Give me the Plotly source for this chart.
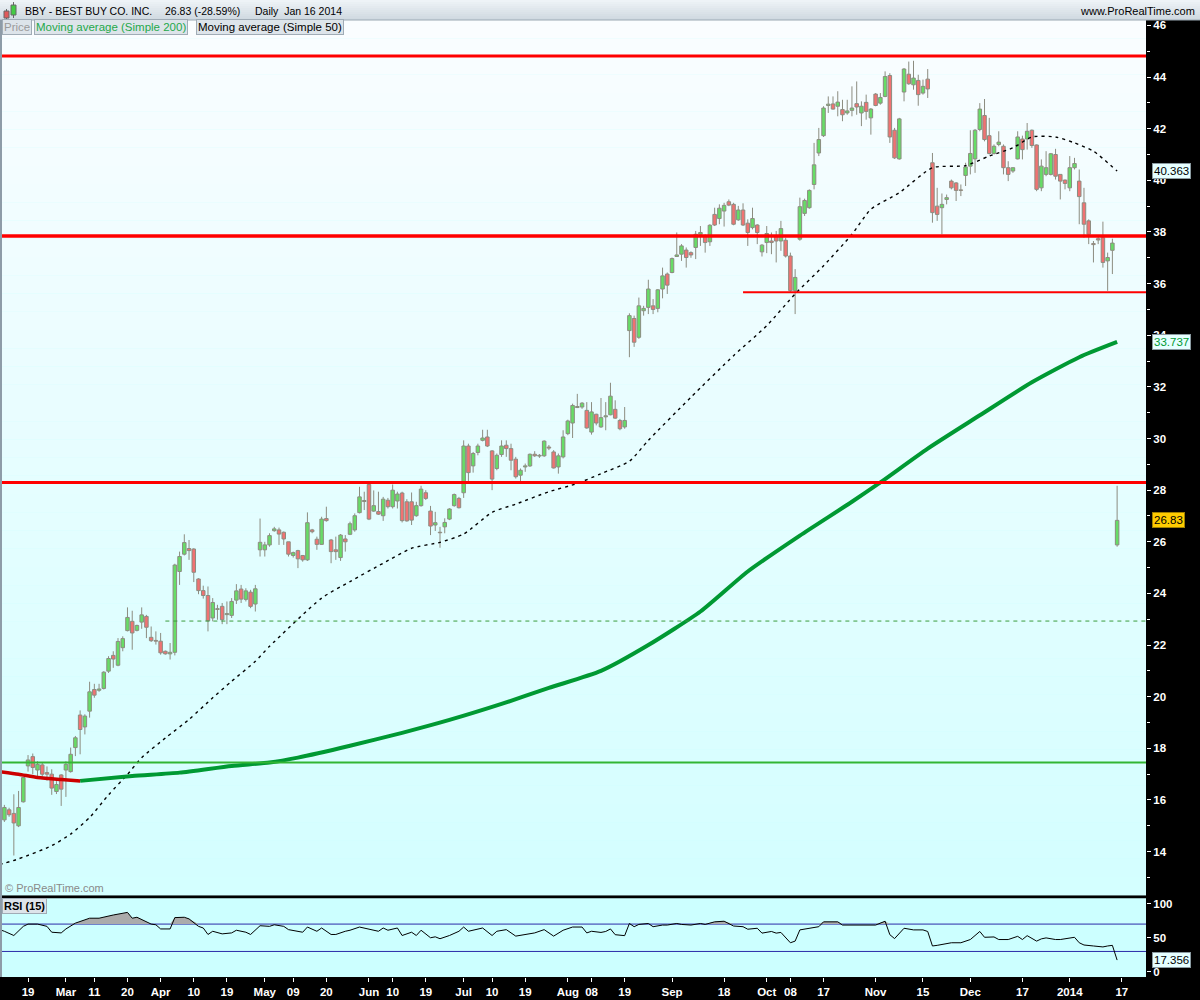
import numpy as np
import plotly.graph_objects as go

# ---------------- DATA ----------------
first_index = -5   # index 0 = Feb 19 2013, one index per trading day
ohlc_open = [15.23, 15.62, 15.48, 15.00, 15.93, 17.32, 17.68, 17.16, 17.36, 17.06,
             17.00, 16.33, 16.97, 17.16, 17.10, 18.03, 19.29, 18.83, 19.44, 20.28,
             20.25, 20.32, 20.99, 21.60, 21.22, 21.90, 22.56, 22.92, 22.57, 22.89,
             23.11, 22.30, 22.18, 22.15, 21.76, 21.66, 21.72, 24.85, 25.52, 25.74,
             25.72, 24.56, 24.11, 23.92, 23.05, 23.38, 23.50, 23.18, 23.15, 23.74,
             24.17, 23.77, 24.05, 23.59,
             25.69, 25.69, 25.88, 26.43, 26.46, 26.37, 26.00, 25.47, 25.66, 25.47,
             25.30, 26.46, 26.10, 25.90, 26.90, 26.07, 25.69, 25.39, 26.11, 26.29,
             26.46, 27.13, 27.56, 28.22, 27.19, 27.17, 27.01, 27.61, 27.36, 27.58,
             27.89, 27.55, 27.55, 27.01, 27.40, 27.90, 27.19, 26.65, 26.36, 26.58,
             26.88, 27.40, 27.68, 27.90, 29.71, 28.94, 29.46, 29.93, 30.06, 29.52,
             28.84, 29.38, 29.74, 29.61, 29.20, 28.58, 28.90, 28.94, 29.39, 29.32,
             29.33, 29.67, 29.48, 28.90, 29.29, 30.19, 30.60, 31.20, 31.22, 31.09,
             30.25, 30.94, 30.45, 30.84, 30.92, 31.13, 30.70, 30.45,
             34.18, 34.65, 33.92, 34.95, 35.08, 35.14, 35.04, 35.79, 36.37, 36.43,
             37.05, 37.14, 37.30, 37.20, 37.40, 37.91, 37.85, 37.62, 38.68, 38.52,
             38.81, 39.17, 39.07, 38.47, 38.85, 38.34, 38.17, 38.27, 37.23, 37.59,
             37.65, 37.85, 37.65, 37.68, 37.07, 35.73, 37.72, 38.72, 38.94, 39.84,
             41.06, 41.73, 42.90, 42.96, 42.87, 42.74, 42.61, 42.71, 42.97, 42.61,
             43.02, 42.42, 43.34, 42.99, 43.25, 44.06, 41.94, 40.83, 43.42, 44.11,
             43.70, 43.87, 43.38, 43.92,
             40.68, 39.00, 38.94, 39.26, 39.97, 39.90, 39.63, 40.19, 40.55, 40.83,
             41.97, 42.51, 41.73, 41.04, 41.39, 41.32, 40.49, 40.36, 40.83, 41.60,
             41.60, 41.94, 41.37, 39.71, 40.23, 40.23, 41.00, 40.23, 40.01, 39.71,
             40.49, 39.97, 39.13, 38.43, 37.55, 37.74, 37.78, 36.88, 37.29, 25.88]
ohlc_high = [15.81, 15.70, 16.22, 16.35, 16.90, 17.74, 17.80, 17.50, 17.45, 17.30,
             17.19, 16.73, 17.00, 17.50, 18.03, 18.48, 19.47, 19.32, 20.58, 20.50,
             20.50, 20.99, 21.57, 21.76, 22.27, 22.34, 23.46, 23.33, 22.79, 23.46,
             23.17, 22.72, 22.53, 22.47, 21.79, 22.08, 25.15, 25.62, 26.29, 26.07,
             25.75, 24.59, 24.30, 24.27, 23.82, 23.56, 23.63, 23.69, 23.82, 24.36,
             24.33, 24.20, 24.14, 24.33,
             26.90, 26.00, 26.33, 26.58, 26.55, 26.40, 26.00, 25.62, 25.69, 25.49,
             27.14, 26.50, 26.20, 26.97, 27.36, 26.11, 26.20, 26.30, 26.26, 26.78,
             27.10, 28.13, 27.94, 28.35, 27.99, 27.94, 27.74, 27.70, 28.22, 27.94,
             27.94, 27.65, 27.91, 27.55, 28.17, 28.00, 27.39, 27.16, 26.58, 26.91,
             27.30, 27.87, 27.74, 29.93, 29.80, 29.48, 29.80, 30.34, 30.34, 29.55,
             29.42, 29.93, 29.93, 29.80, 29.29, 28.84, 29.03, 29.42, 29.51, 29.40,
             29.93, 29.75, 29.55, 29.42, 30.32, 30.73, 31.35, 31.73, 31.41, 31.41,
             31.41, 30.96, 31.57, 31.41, 32.16, 31.48, 30.76, 31.22,
             34.85, 34.76, 35.46, 35.14, 36.15, 35.40, 35.79, 36.62, 36.43, 37.01,
             37.98, 37.53, 37.40, 37.25, 38.04, 38.23, 37.91, 38.30, 38.94, 39.07,
             39.13, 39.26, 39.13, 39.01, 39.11, 38.49, 38.94, 38.30, 37.53, 38.23,
             37.98, 38.04, 38.43, 37.78, 37.20, 36.56, 39.33, 39.29, 39.65, 41.45,
             42.03, 42.87, 43.25, 43.25, 43.45, 43.12, 43.12, 43.64, 43.83, 43.06,
             43.32, 42.80, 43.38, 43.38, 44.22, 44.15, 42.03, 42.42, 44.35, 44.60,
             44.63, 44.09, 43.90, 44.31,
             41.06, 39.71, 39.49, 39.45, 40.03, 39.93, 39.84, 40.68, 41.94, 41.99,
             42.99, 43.15, 42.42, 41.39, 41.90, 41.39, 40.74, 40.49, 41.90, 41.73,
             42.22, 41.97, 41.39, 40.81, 41.13, 41.06, 41.22, 40.23, 40.03, 40.94,
             40.87, 40.42, 39.71, 38.49, 37.65, 37.82, 38.40, 37.20, 37.74, 28.17]
ohlc_low = [15.15, 15.35, 13.85, 14.95, 15.90, 17.10, 17.00, 16.93, 16.90, 16.75,
            16.20, 16.23, 15.77, 16.12, 17.06, 17.70, 17.77, 18.54, 19.19, 19.96,
            20.19, 20.28, 20.92, 21.12, 21.18, 21.76, 22.53, 21.82, 22.53, 22.63,
            22.27, 22.12, 22.02, 21.63, 21.63, 21.44, 21.60, 24.33, 25.47, 25.30,
            24.44, 23.97, 23.80, 22.53, 22.92, 22.98, 22.81, 22.81, 23.05, 23.59,
            23.63, 23.69, 23.43, 23.30,
            25.43, 25.43, 25.81, 26.39, 25.88, 25.88, 25.43, 25.39, 24.98, 25.23,
            25.26, 26.33, 25.69, 25.88, 26.78, 25.17, 25.30, 25.26, 25.62, 26.26,
            26.39, 27.10, 27.23, 26.84, 27.16, 27.04, 26.81, 27.29, 27.29, 27.29,
            26.75, 26.78, 26.65, 26.97, 27.36, 27.62, 26.26, 26.42, 25.77, 26.33,
            26.84, 27.36, 27.29, 27.70, 28.32, 28.68, 29.35, 29.89, 29.67, 28.00,
            28.77, 29.29, 29.29, 28.77, 28.45, 28.35, 28.71, 28.90, 29.29, 29.25,
            29.29, 29.55, 28.84, 28.64, 29.23, 30.13, 30.02, 31.18, 31.15, 30.38,
            30.15, 30.51, 30.41, 30.32, 30.90, 30.76, 30.32, 30.38,
            33.15, 33.55, 33.86, 34.76, 34.82, 34.82, 34.89, 35.43, 35.60, 36.40,
            37.03, 36.88, 36.62, 37.00, 36.95, 37.46, 37.20, 37.46, 38.23, 38.30,
            38.21, 39.00, 38.26, 38.43, 38.23, 37.46, 38.10, 37.53, 37.05, 37.18,
            37.14, 36.82, 37.27, 37.01, 35.66, 34.82, 37.66, 38.62, 38.90, 39.65,
            40.94, 41.68, 42.61, 42.74, 42.48, 42.29, 42.54, 42.48, 42.54, 42.10,
            42.35, 41.77, 42.87, 42.93, 43.22, 41.45, 40.83, 40.80, 43.06, 43.70,
            43.51, 42.89, 43.32, 43.19,
            38.36, 38.43, 37.91, 39.07, 39.65, 39.20, 39.39, 39.78, 40.23, 40.29,
            41.90, 41.51, 41.00, 41.00, 41.32, 40.23, 39.97, 40.29, 40.81, 40.81,
            41.19, 41.26, 39.58, 39.58, 40.16, 40.19, 40.03, 39.26, 39.65, 39.58,
            40.42, 38.30, 37.78, 37.53, 36.82, 37.53, 36.62, 35.72, 36.37, 25.81]
ohlc_close = [15.71, 15.43, 15.11, 15.71, 16.87, 17.55, 17.26, 17.38, 17.00, 17.00,
              16.46, 16.60, 16.42, 17.38, 17.77, 18.41, 18.73, 19.25, 20.19, 20.06,
              20.30, 20.95, 21.48, 21.46, 22.14, 22.25, 23.07, 22.47, 22.76, 23.17,
              22.69, 22.17, 22.15, 21.70, 21.66, 21.72, 25.10, 25.43, 25.97, 25.66,
              24.82, 24.11, 23.92, 22.94, 23.65, 23.41, 22.98, 23.22, 23.69, 24.10,
              23.78, 24.10, 23.50, 24.18,
              25.98, 25.88, 26.24, 26.50, 26.30, 26.11, 25.52, 25.58, 25.34, 25.30,
              26.74, 26.39, 25.90, 26.88, 26.82, 25.62, 25.62, 26.26, 26.00, 26.70,
              27.01, 27.74, 27.60, 26.88, 27.40, 27.07, 27.65, 27.36, 28.00, 27.85,
              26.82, 26.81, 26.84, 27.40, 28.04, 27.68, 26.61, 26.74, 26.35, 26.75,
              27.27, 27.83, 27.32, 29.71, 28.68, 29.42, 29.71, 30.02, 29.71, 28.43,
              29.35, 29.71, 29.61, 29.16, 28.52, 28.77, 28.94, 29.39, 29.33, 29.35,
              29.90, 29.63, 28.86, 29.33, 30.06, 30.68, 31.28, 31.24, 31.37, 30.41,
              31.03, 30.60, 30.81, 30.88, 31.64, 30.79, 30.38, 30.70,
              34.76, 33.73, 35.14, 35.04, 35.79, 35.00, 35.76, 36.30, 35.94, 36.97,
              37.11, 37.46, 37.01, 37.11, 37.91, 37.98, 37.59, 38.26, 38.27, 38.92,
              39.03, 39.04, 38.30, 38.85, 38.27, 37.98, 38.52, 37.98, 37.49, 37.94,
              37.59, 37.65, 38.13, 37.07, 35.73, 36.24, 38.98, 39.22, 39.61, 40.60,
              41.58, 42.80, 42.95, 42.76, 43.03, 42.54, 42.69, 42.80, 42.84, 42.87,
              42.67, 42.76, 42.90, 43.21, 44.02, 41.68, 40.87, 42.38, 44.31, 43.74,
              43.96, 43.32, 43.64, 43.54,
              38.75, 38.68, 39.07, 39.33, 39.71, 39.61, 39.61, 40.52, 41.04, 41.94,
              42.76, 41.58, 41.04, 41.32, 41.48, 40.49, 40.23, 40.49, 41.68, 41.19,
              41.90, 41.35, 39.65, 40.55, 40.49, 41.03, 40.16, 39.97, 39.88, 40.49,
              40.65, 39.37, 38.30, 37.91, 37.51, 37.69, 36.82, 37.01, 37.57, 26.83]

# Moving averages (index, value)
sma200_dn_idx = [-6, -2, 2, 7, 11]
sma200_dn_val = [17.10, 17.00, 16.87, 16.79, 16.74]
sma200_up_idx = [11, 22, 32, 43, 51, 57, 68, 79, 89, 100, 110, 121, 131, 142, 152,
                 163, 174, 180, 190, 201, 212, 222, 230]
sma200_up_val = [16.74, 16.93, 17.06, 17.32, 17.45, 17.64, 18.10, 18.60, 19.10, 19.72,
                 20.34, 21.00, 22.00, 23.30, 24.85, 26.24, 27.55, 28.30, 29.61, 30.90,
                 32.18, 33.15, 33.74]
sma50_idx = [-6, -2, 5, 9, 13, 17, 21, 24, 29, 34, 39, 43, 48, 51, 62, 68, 75, 81, 87,
             92, 98, 103, 110, 116, 121, 127, 131, 140, 149, 156, 162, 168, 174, 178,
             184, 191, 198, 203, 208, 212, 217, 221, 225, 230]
sma50_val = [13.50, 13.72, 14.23, 14.68, 15.32, 16.20, 16.99, 17.64, 18.40, 19.12, 19.96,
             20.60, 21.37, 21.95, 23.82, 24.46, 25.17, 25.75, 25.98, 26.30, 27.14, 27.46,
             27.94, 28.26, 28.64, 29.12, 29.93, 31.60, 33.21, 34.37, 35.60, 36.69, 37.91,
             38.88, 39.52, 40.49, 40.57, 40.94, 41.26, 41.68, 41.68, 41.45, 41.13, 40.36]

# RSI(15) readings (index, value)
rsi_idx = [-6, -5, -3, -1, 0, 2, 4, 5, 7, 8, 10, 13, 15, 17, 18, 21, 22, 23, 26, 27,
           28, 30, 31, 33, 34, 36, 37, 38, 39, 41, 43, 44, 46, 47, 49, 51, 52, 54, 55,
           58, 59, 61, 62, 64, 65, 67, 68, 70, 72, 73, 74, 75, 76, 78, 79, 81, 82, 83,
           85, 86, 87, 89, 91, 92, 93, 96, 98, 99, 101, 103, 106, 107, 109, 111, 113,
           115, 117, 118, 119, 121, 122, 123, 124, 126, 127, 128, 129, 131, 132, 134,
           135, 137, 138, 140, 142, 143, 145, 147, 149, 151, 152, 154, 155, 157, 158,
           159, 161, 162, 163, 165, 167, 168, 171, 172, 176, 179, 181, 182, 183, 185,
           187, 189, 190, 191, 192, 193, 195, 197, 199, 201, 202, 204, 205, 207, 209,
           210, 211, 213, 214, 215, 217, 218, 220, 221, 222, 223, 225, 227, 228, 229, 230]
rsi_val = [61.9, 59.5, 53.3, 66.7, 70.0, 70.0, 66.7, 58.1, 57.1, 62.9, 71.4, 78.6, 78.6,
           81.9, 83.3, 87.1, 78.6, 80.0, 70.0, 69.0, 62.9, 62.9, 79.5, 80.0, 77.6, 66.7,
           64.3, 54.8, 59.5, 55.7, 57.1, 61.0, 58.1, 54.8, 67.6, 66.7, 69.0, 66.7, 61.9,
           58.1, 65.7, 59.5, 64.3, 54.8, 54.8, 59.5, 61.0, 65.7, 62.9, 61.9, 59.5, 64.3,
           61.0, 64.3, 53.3, 58.1, 53.3, 61.0, 50.0, 51.4, 48.6, 53.3, 59.5, 65.7, 59.5,
           64.3, 53.3, 59.5, 61.9, 52.4, 56.2, 57.1, 61.9, 52.4, 61.0, 65.7, 65.7, 57.1,
           59.5, 57.8, 59.2, 62.9, 54.5, 53.1, 70.9, 66.2, 69.5, 70.9, 66.2, 68.6, 68.6,
           70.9, 69.5, 68.6, 70.9, 69.5, 73.3, 74.2, 67.2, 66.2, 62.5, 63.9, 56.8, 59.2,
           56.8, 57.8, 42.7, 45.1, 61.5, 63.9, 66.2, 73.3, 73.3, 68.6, 68.6, 68.6, 74.2,
           54.5, 48.8, 63.9, 61.5, 61.5, 59.2, 38.0, 38.9, 40.4, 42.7, 42.7, 47.4, 59.2,
           50.7, 51.2, 47.4, 47.4, 52.1, 47.4, 53.1, 45.1, 48.4, 49.8, 47.4, 47.4, 49.8,
           50.7, 42.7, 39.4, 38.0, 36.6, 38.0, 38.9, 17.356]

# Horizontal levels
red_levels = [44.82, 37.84, 28.30]
support_level = 35.67
support_start = 151
green_level = 17.45
gap_level = 22.93
gap_start = 29
rsi_bands = [70, 30]

# x-axis ticks
tick_idx = [0, 8, 14, 21, 28, 35, 42, 50, 56, 63, 72, 77, 84, 92, 98, 105, 114, 119,
            126, 136, 147, 156, 161, 168, 179, 189, 199, 210, 220, 231]
tick_text = ["19", "Mar", "11", "20", "Apr", "10", "19", "May", "09", "20", "Jun", "10",
             "19", "Jul", "10", "19", "Aug", "08", "19", "Sep", "18", "Oct", "08", "17",
             "Nov", "15", "Dec", "17", "2014", "17"]

last_labels = {"sma50": "40.363", "sma200": "33.737", "price": "26.83", "rsi": "17.356"}

# ---------------- LAYOUT GEOMETRY ----------------
W, H = 1200, 1000
ML, MR, MT, MB = 2, 54, 20, 18
PW, PH = W - ML - MR, H - MT - MB


def px(x):
    return (x - ML) / PW


def py(y):
    return (H - MB - y) / PH


FONT = "Liberation Sans, Arial, sans-serif"
x_range = [-5.5, 236.1]
CANDLE_EDGE = "#8c8c80"

idx = np.arange(first_index, first_index + len(ohlc_open))
o = np.array(ohlc_open)
h = np.array(ohlc_high)
lo = np.array(ohlc_low)
c = np.array(ohlc_close)
body_top = np.maximum(o, c)
body_bot = np.minimum(o, c)
body_len = np.maximum(body_top - body_bot, 0.02)
up = c >= o

fig = go.Figure()

# wicks (upper and lower, not crossing the body)
wx, wy = [], []
for k in range(len(idx)):
    wx += [idx[k], idx[k], None, idx[k], idx[k], None]
    wy += [h[k], body_top[k], None, body_bot[k], lo[k], None]
fig.add_trace(go.Scatter(x=wx, y=wy, mode="lines", line=dict(color=CANDLE_EDGE, width=1),
                         xaxis="x", yaxis="y", showlegend=False, hoverinfo="skip"))
# bodies
for mask, col in [(up, "#66dd66"), (~up, "#f07272")]:
    fig.add_trace(go.Bar(x=idx[mask], y=body_len[mask], base=body_bot[mask], width=0.74,
                         marker=dict(color=col, line=dict(color=CANDLE_EDGE, width=1)),
                         xaxis="x", yaxis="y", showlegend=False, hoverinfo="skip"))

fig.add_trace(go.Scatter(x=sma50_idx, y=sma50_val, mode="lines",
                         line=dict(color="black", width=1.4, dash="3px,4px", shape="spline", smoothing=0.6),
                         xaxis="x", yaxis="y", showlegend=False, hoverinfo="skip"))
fig.add_trace(go.Scatter(x=sma200_up_idx, y=sma200_up_val, mode="lines",
                         line=dict(color="#009933", width=4, shape="spline", smoothing=0.6),
                         xaxis="x", yaxis="y", showlegend=False, hoverinfo="skip"))
fig.add_trace(go.Scatter(x=sma200_dn_idx, y=sma200_dn_val, mode="lines",
                         line=dict(color="#cc0000", width=3.5, shape="spline", smoothing=0.6),
                         xaxis="x", yaxis="y", showlegend=False, hoverinfo="skip"))

# RSI overbought fill
rsi_arr = np.array(rsi_val)
fig.add_trace(go.Scatter(x=rsi_idx, y=[rsi_bands[0]] * len(rsi_idx), mode="lines",
                         line=dict(width=0, color="rgba(0,0,0,0)"), xaxis="x2", yaxis="y2",
                         showlegend=False, hoverinfo="skip"))
fig.add_trace(go.Scatter(x=rsi_idx, y=np.maximum(rsi_arr, rsi_bands[0]), mode="lines",
                         line=dict(width=0, color="rgba(0,0,0,0)"), fill="tonexty",
                         fillcolor="#ababab", xaxis="x2", yaxis="y2",
                         showlegend=False, hoverinfo="skip"))
fig.add_trace(go.Scatter(x=rsi_idx, y=rsi_val, mode="lines",
                         line=dict(color="black", width=1), xaxis="x2", yaxis="y2",
                         showlegend=False, hoverinfo="skip"))

shapes = []
# main panel gradient background
nb = 48
y_top, y_bot = 20, 898
for k in range(nb):
    t = k / (nb - 1)
    r = int(250 + (212 - 250) * t)
    g = int(253 + (255 - 253) * t)
    shapes.append(dict(type="rect", xref="paper", yref="paper", x0=0, x1=1,
                       y0=py(y_top + (y_bot - y_top) * (k + 1) / nb),
                       y1=py(y_top + (y_bot - y_top) * k / nb),
                       fillcolor=f"rgb({r},{g},255)", line=dict(width=0), layer="below"))
# header gradient
nh = 10
for k in range(nh):
    t = k / (nh - 1)
    cc = (int(238 - 30 * t), int(243 - 25 * t), int(247 - 22 * t))
    shapes.append(dict(type="rect", xref="paper", yref="paper", x0=px(0), x1=px(1200),
                       y0=py(20 * (k + 1) / nh), y1=py(20 * k / nh),
                       fillcolor=f"rgb{cc}", line=dict(width=0), layer="below"))
shapes.append(dict(type="line", xref="paper", yref="paper", x0=px(0), x1=px(1200),
                   y0=py(20), y1=py(20), line=dict(color="#9aa8b2", width=1)))
# left border
shapes.append(dict(type="rect", xref="paper", yref="paper", x0=px(0), x1=px(2),
                   y0=py(980), y1=py(20), fillcolor="#8e9ca8", line=dict(width=0)))
# header icon
shapes += [
    dict(type="line", xref="paper", yref="paper", x0=px(6.5), x1=px(6.5), y0=py(20), y1=py(9),
         line=dict(color="#666", width=1)),
    dict(type="rect", xref="paper", yref="paper", x0=px(4), x1=px(9), y0=py(18), y1=py(11),
         fillcolor="#e05a5a", line=dict(color="#666", width=1)),
    dict(type="line", xref="paper", yref="paper", x0=px(13.5), x1=px(13.5), y0=py(18), y1=py(2),
         line=dict(color="#666", width=1)),
    dict(type="rect", xref="paper", yref="paper", x0=px(11), x1=px(16), y0=py(15), y1=py(5),
         fillcolor="#44cc44", line=dict(color="#666", width=1)),
]
# level lines
for lv, w in zip(red_levels, [3, 3.5, 3]):
    shapes.append(dict(type="line", xref="x domain", yref="y", x0=0, x1=1, y0=lv, y1=lv,
                       line=dict(color="#ff0000", width=w), layer="above"))
shapes.append(dict(type="line", xref="x", yref="y", x0=support_start, x1=x_range[1],
                   y0=support_level, y1=support_level, line=dict(color="#ff0000", width=2)))
shapes.append(dict(type="line", xref="x domain", yref="y", x0=0, x1=1, y0=green_level,
                   y1=green_level, line=dict(color="#33b533", width=2)))
shapes.append(dict(type="line", xref="x", yref="y", x0=gap_start, x1=x_range[1],
                   y0=gap_level, y1=gap_level, line=dict(color="#3c9c3c", width=1, dash="4px,4px")))
for lv in rsi_bands:
    shapes.append(dict(type="line", xref="x2 domain", yref="y2", x0=0, x1=1, y0=lv, y1=lv,
                       line=dict(color="#2a2aa8", width=1), layer="below"))

annotations = []
hdr = dict(xref="paper", yref="paper", showarrow=False, xanchor="left", yanchor="middle",
           font=dict(family=FONT, size=10.5, color="black"))
annotations.append(dict(hdr, x=px(23), y=py(10.5), text="BBY - BEST BUY CO. INC."))
annotations.append(dict(hdr, x=px(163), y=py(10.5), text="26.83 (-28.59%)"))
annotations.append(dict(hdr, x=px(253), y=py(10.5), text="Daily  Jan 16 2014"))
annotations.append(dict(hdr, x=px(1197), y=py(10.5), xanchor="right", text="www.ProRealTime.com",
                        font=dict(family=FONT, size=11, color="black")))

box = dict(xref="paper", yref="paper", showarrow=False, xanchor="left", yanchor="middle",
           bgcolor="#dde4ea", bordercolor="#a0acb6", borderwidth=1, borderpad=1)
annotations.append(dict(box, x=px(2), y=py(27), text="Price",
                        font=dict(family=FONT, size=11.5, color="#9a9a9a")))
annotations.append(dict(box, x=px(34), y=py(27), text="Moving average (Simple 200)",
                        font=dict(family=FONT, size=11.5, color="#1fa84a")))
annotations.append(dict(box, x=px(196), y=py(27), text="Moving average (Simple 50)",
                        font=dict(family=FONT, size=11.5, color="black")))
annotations.append(dict(box, x=px(2), y=py(909), text="<b>RSI (15)</b>",
                        font=dict(family=FONT, size=11, color="black")))
annotations.append(dict(xref="paper", yref="paper", showarrow=False, xanchor="left",
                        yanchor="middle", x=px(3), y=py(891), text="© ProRealTime.com",
                        font=dict(family=FONT, size=11, color="#8a8a8a")))

lab = dict(xref="paper", showarrow=False, xanchor="left", yanchor="middle", x=px(1152),
           borderwidth=1, borderpad=1)
annotations.append(dict(lab, yref="y", y=sma50_val[-1], text=last_labels["sma50"],
                        bgcolor="#e6ffff", bordercolor="#8a9aa0",
                        font=dict(family=FONT, size=11.5, color="black")))
annotations.append(dict(lab, yref="y", y=sma200_up_val[-1], text=last_labels["sma200"],
                        bgcolor="#e6ffff", bordercolor="#8a9aa0",
                        font=dict(family=FONT, size=11.5, color="#009933")))
annotations.append(dict(lab, yref="y", y=ohlc_close[-1], text=last_labels["price"],
                        bgcolor="#ffcc00", bordercolor="#a08000",
                        font=dict(family=FONT, size=11.5, color="black")))
annotations.append(dict(lab, yref="y2", y=rsi_val[-1], text=last_labels["rsi"],
                        bgcolor="#e6ffff", bordercolor="#8a9aa0",
                        font=dict(family=FONT, size=11.5, color="black")))

tickfont = dict(family=FONT, size=11.5, color="white", weight="bold")

fig.update_layout(
    width=W, height=H,
    margin=dict(l=ML, r=MR, t=MT, b=MB),
    paper_bgcolor="black", plot_bgcolor="#ccffff",
    showlegend=False, barmode="overlay", bargap=0,
    shapes=shapes, annotations=annotations,
    xaxis=dict(domain=[0, 1], anchor="y", range=x_range, showticklabels=False,
               showgrid=False, zeroline=False, ticks="", fixedrange=True),
    yaxis=dict(domain=[py(898), 1], anchor="x", side="right", range=[12.31, 46.21],
               tick0=0, dtick=2, showgrid=False, zeroline=False, ticks="outside",
               ticklen=4, tickcolor="white", tickfont=tickfont, fixedrange=True,
               minor=dict(ticks="outside", ticklen=3, tickcolor="white", dtick=1, tick0=0)),
    xaxis2=dict(domain=[0, 1], anchor="y2", range=x_range, matches="x",
                tickmode="array", tickvals=tick_idx, ticktext=tick_text,
                showgrid=False, zeroline=False, ticks="outside", ticklen=4,
                tickcolor="white", tickfont=tickfont, fixedrange=True),
    yaxis2=dict(domain=[py(980), py(901)], anchor="x2", side="right", range=[-7.4, 107.8],
                tick0=0, dtick=50, showgrid=False, zeroline=False, ticks="outside",
                ticklen=4, tickcolor="white", tickfont=tickfont, fixedrange=True),
)

fig.write_html("out.html", config={"displayModeBar": False, "staticPlot": True},
               post_script="document.body.style.margin='0';document.body.style.overflow='hidden';")
